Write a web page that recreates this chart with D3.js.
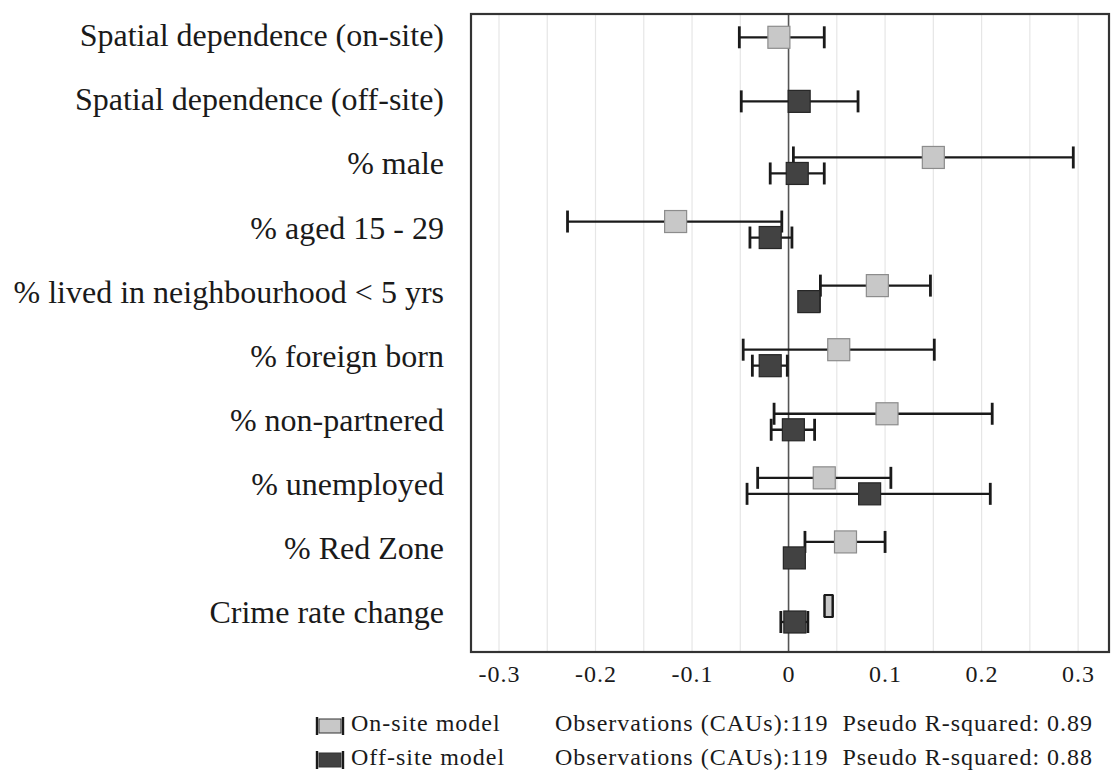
<!DOCTYPE html>
<html lang="en">
<head>
  <meta charset="UTF-8">
  <title>coefficients</title>
  <script src="https://d3js.org/d3.v7.min.js"></script>
  <style>
    body { margin: 0; background: #fff; }
    text { font-family: "Liberation Serif", "Times New Roman", serif; fill: #1a1a1a; }
  </style>
</head>
<body>
  <div class="canvas"></div>
  <script>
    const categories = [
      'Spatial dependence (on-site)',
      'Spatial dependence (off-site)',
      '% male',
      '% aged 15 - 29',
      '% lived in neighbourhood < 5 yrs',
      '% foreign born',
      '% non-partnered',
      '% unemployed',
      '% Red Zone',
      'Crime rate change'
    ];
    // on-site model: estimate, lower, upper (null = not in model)
    const onEst = [-0.010, null, 0.150, -0.117, 0.092, 0.052, 0.102, 0.037, 0.059, 0.0415];
    const onLo  = [-0.051, null, 0.005, -0.229, 0.033, -0.047, -0.015, -0.032, 0.017, 0.0375];
    const onHi  = [0.037, null, 0.295, -0.007, 0.147, 0.151, 0.211, 0.106, 0.100, 0.0455];
    // off-site model
    const offEst = [null, 0.011, 0.009, -0.019, 0.021, -0.019, 0.005, 0.084, 0.006, 0.0065];
    const offLo  = [null, -0.049, -0.019, -0.040, 0.012, -0.0375, -0.018, -0.043, -0.004, -0.008];
    const offHi  = [null, 0.072, 0.037, 0.0035, 0.032, -0.0013, 0.027, 0.209, 0.014, 0.020];
    const xTicks = [-0.3, -0.2, -0.1, 0, 0.1, 0.2, 0.3];
    const models = ['On-site model', 'Off-site model'];
    const stats = ['Observations (CAUs):119  Pseudo R-squared: 0.89',
                   'Observations (CAUs):119  Pseudo R-squared: 0.88'];

    const width = 1113, height = 773;
    const [mt, mb, ml, mr] = [14, 121, 471, 4];
    const sq = 22, capH = 22;
    const colors = {
      on:  { fill: '#c8c8c8', stroke: '#8c8c8c' },
      off: { fill: '#424242', stroke: '#262626' }
    };

    const svg = d3.select('.canvas').append('svg')
      .attr('width', width).attr('height', height);

    const x = d3.scaleLinear().domain([-0.329, 0.332]).range([ml, width - mr]);
    const y = d3.scalePoint().domain(categories).range([37.3, 614]);

    // gridlines every 0.05
    const grid = d3.range(-6, 7).filter(i => i !== 0).map(i => i * 0.05);
    svg.append('g').selectAll('line').data(grid).enter().append('line')
      .attr('x1', d => x(d)).attr('x2', d => x(d))
      .attr('y1', mt).attr('y2', height - mb)
      .attr('stroke', '#e6e6e6').attr('stroke-width', 1.2);

    // zero line
    svg.append('line')
      .attr('x1', x(0)).attr('x2', x(0))
      .attr('y1', mt).attr('y2', height - mb)
      .attr('stroke', '#555').attr('stroke-width', 1.6);

    // rows of points
    const rows = [];
    categories.forEach((c, i) => {
      const both = onEst[i] != null && offEst[i] != null;
      if (onEst[i] != null) rows.push({ cat: c, m: 'on', est: onEst[i], lo: onLo[i], hi: onHi[i], dy: both ? -8 : 0 });
      if (offEst[i] != null) rows.push({ cat: c, m: 'off', est: offEst[i], lo: offLo[i], hi: offHi[i], dy: both ? 8 : 0 });
    });

    const pts = svg.append('g').selectAll('g').data(rows).enter().append('g')
      .attr('transform', d => `translate(0, ${y(d.cat) + d.dy})`);

    pts.append('line')
      .attr('x1', d => x(d.lo)).attr('x2', d => x(d.hi))
      .attr('stroke', '#1a1a1a').attr('stroke-width', 2.3);
    pts.each(function(d) {
      d3.select(this).selectAll('.cap').data([d.lo, d.hi]).enter().append('line')
        .attr('x1', v => x(v)).attr('x2', v => x(v))
        .attr('y1', -capH / 2).attr('y2', capH / 2)
        .attr('stroke', '#1a1a1a').attr('stroke-width', 2.8);
    });
    // very narrow intervals hide the square: box spans the interval
    const narrow = d => x(d.hi) - x(d.lo) < 10;
    pts.append('rect')
      .attr('x', d => narrow(d) ? x(d.lo) : x(d.est) - sq / 2)
      .attr('width', d => narrow(d) ? x(d.hi) - x(d.lo) : sq)
      .attr('y', -sq / 2).attr('height', sq)
      .attr('fill', d => colors[d.m].fill)
      .attr('stroke', d => narrow(d) ? '#1a1a1a' : colors[d.m].stroke)
      .attr('stroke-width', d => narrow(d) ? 2 : 1.2);

    // frame
    svg.append('rect')
      .attr('x', ml).attr('y', mt)
      .attr('width', width - mr - ml).attr('height', height - mb - mt)
      .attr('fill', 'none').attr('stroke', '#333').attr('stroke-width', 2.2);

    // category labels
    svg.append('g').selectAll('text').data(categories).enter().append('text')
      .attr('x', 444).attr('y', d => y(d) + 9)
      .attr('text-anchor', 'end')
      .style('font-size', '32px')
      .text(d => d);

    // x axis
    const axis = svg.append('g')
      .attr('transform', `translate(0, ${height - mb})`)
      .call(d3.axisBottom(x).tickValues(xTicks).tickSize(0)
        .tickFormat(d => d === 0 ? '0' : d.toFixed(1)));
    axis.select('.domain').remove();
    axis.selectAll('text')
      .attr('y', 30).attr('dy', 0)
      .style('font-family', '"Liberation Serif", serif')
      .style('font-size', '24px')
      .style('letter-spacing', '1px')
      .attr('fill', '#1a1a1a');

    // legend
    const leg = svg.append('g').selectAll('g').data(models).enter().append('g')
      .attr('transform', (d, i) => `translate(0, ${726 + i * 34})`);
    leg.append('rect')
      .attr('x', 319).attr('y', -7).attr('width', 22).attr('height', 14)
      .attr('fill', (d, i) => i ? colors.off.fill : colors.on.fill)
      .attr('stroke', '#333').attr('stroke-width', 1);
    leg.each(function() {
      d3.select(this).selectAll('.cap').data([317, 343]).enter().append('line')
        .attr('x1', v => v).attr('x2', v => v)
        .attr('y1', -9).attr('y2', 9)
        .attr('stroke', '#1a1a1a').attr('stroke-width', 2.4);
    });
    leg.append('text')
      .attr('x', 351).attr('y', 5)
      .style('font-size', '24px').style('letter-spacing', '1px')
      .text(d => d);
    leg.append('text')
      .attr('x', 555).attr('y', 5)
      .style('font-size', '24px').style('letter-spacing', '1px')
      .style('white-space', 'pre')
      .text((d, i) => stats[i]);
  </script>
</body>
</html>
